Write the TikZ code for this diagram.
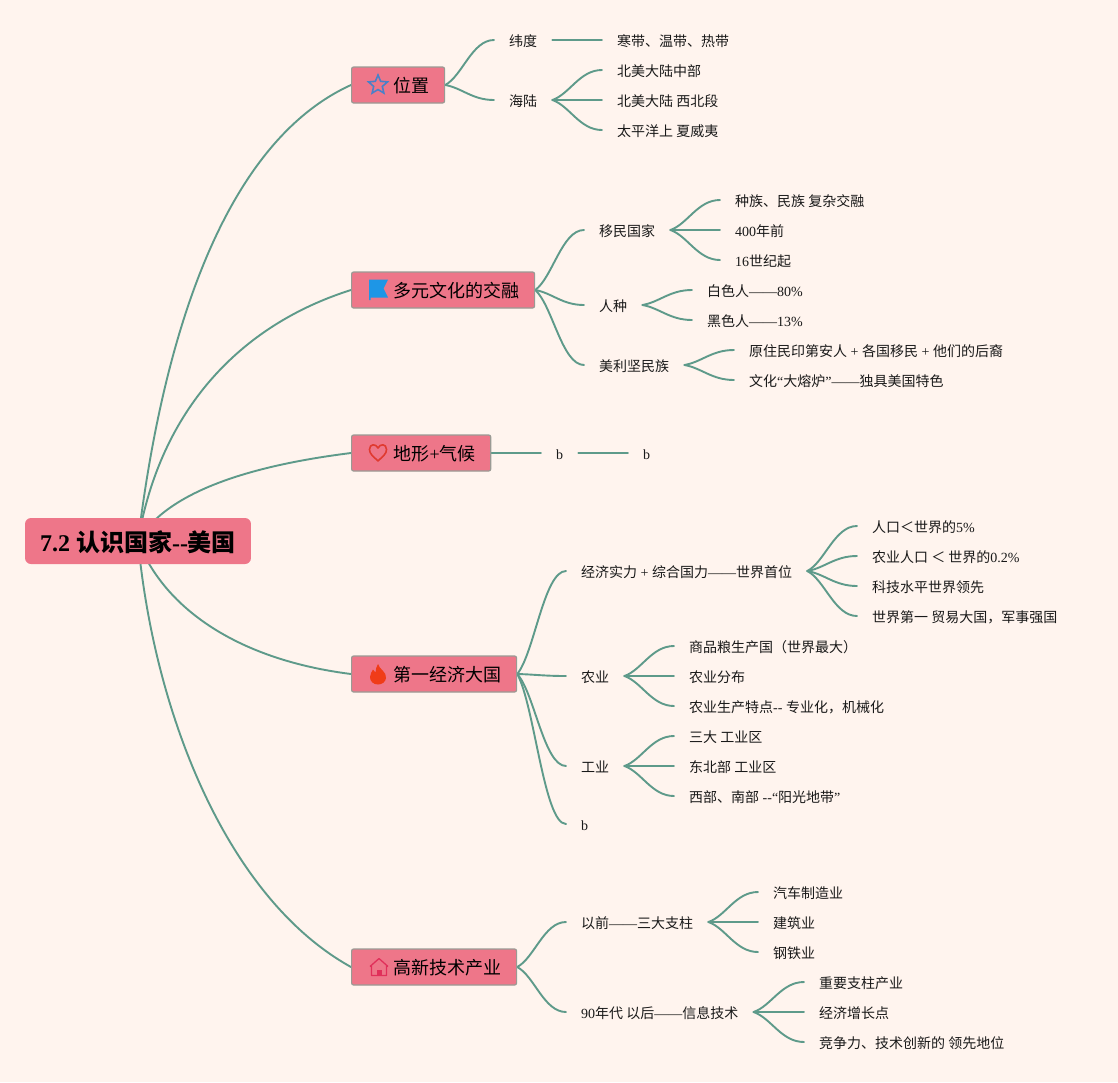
\documentclass[tikz,border=0pt]{standalone}
\usepackage{fontspec}
\setmainfont{Liberation Serif}
\newfontfamily\cjkface{Noto Sans CJK SC}
\newcommand{\zh}[1]{{\cjkface #1}}
\usetikzlibrary{shapes.geometric,backgrounds,calc}
\definecolor{pagebg}{HTML}{FFF4EE}
\definecolor{linkc}{HTML}{5E9A8A}
\definecolor{boxc}{HTML}{EE7689}
\definecolor{boxline}{HTML}{9A9A94}
\definecolor{iconstar}{HTML}{4A80C8}
\definecolor{iconflag}{HTML}{1E96E6}
\definecolor{iconheart}{HTML}{E03A30}
\definecolor{iconflame}{HTML}{F03C18}
\definecolor{iconhouse}{HTML}{E0305A}
\tikzset{
  x=1pt,y=1pt,
  leaf/.style={anchor=west,inner xsep=15pt,inner ysep=0pt,text height=14pt,text depth=1.4pt,font=\fontsize{14}{16}\selectfont,text=black!90},
  branch/.style={anchor=west,draw=boxline,line width=1.2pt,fill=boxc,rounded corners=2pt,minimum height=36pt,inner xsep=15pt,inner ysep=0pt,text height=19pt,text depth=4pt,font=\fontsize{18}{20}\selectfont},
  rootbox/.style={anchor=center,fill=boxc,rounded corners=6pt,minimum height=46pt,inner xsep=15pt,inner ysep=0pt,text height=24pt,text depth=4pt,font=\fontsize{24}{26}\selectfont\bfseries},
  link/.style={draw=linkc,line width=1.9pt,line cap=round},
}
\newcommand{\gapp}{\hspace*{27pt}}
\newcommand{\conn}[2]{\draw[link] let \p1=(#1.east),\p2=(#2.west) in (#1.east) .. controls ({\x1+.35*(\x2-\x1)},{\y1+.2*(\y2-\y1)}) and ({\x1+.55*(\x2-\x1)},{\y2}) .. (#2.west);}
\begin{document}
\begin{tikzpicture}
\useasboundingbox (0,0) rectangle (1118,-1082);
\node[rootbox] (root) at (138,-541) {7.2 \zh{认识国家}-{}-\zh{美国}};
\node[branch] (b1) at (351,-85) {\gapp\zh{位置}};
\node[branch] (b2) at (351,-290) {\gapp\zh{多元文化的交融}};
\node[branch] (b3) at (351,-453) {\gapp\zh{地形}+\zh{气候}};
\node[branch] (b4) at (351,-674) {\gapp\zh{第一经济大国}};
\node[branch] (b5) at (351,-967) {\gapp\zh{高新技术产业}};
% branch 1
\node[leaf] (a1) at (494,-40) {\zh{纬度}};
\node[leaf] (a2) at (494,-100) {\zh{海陆}};
\node[leaf] (a11) at (602,-40) {\zh{寒带、温带、热带}};
\node[leaf] (a21) at (602,-70) {\zh{北美大陆中部}};
\node[leaf] (a22) at (602,-100) {\zh{北美大陆 西北段}};
\node[leaf] (a23) at (602,-130) {\zh{太平洋上 夏威夷}};
% branch 2
\node[leaf] (c1) at (584,-230) {\zh{移民国家}};
\node[leaf] (c2) at (584,-305) {\zh{人种}};
\node[leaf] (c3) at (584,-365) {\zh{美利坚民族}};
\node[leaf] (c11) at (720,-200) {\zh{种族、民族 复杂交融}};
\node[leaf] (c12) at (720,-230) {400\zh{年前}};
\node[leaf] (c13) at (720,-260) {16\zh{世纪起}};
\node[leaf] (c21) at (692,-290) {\zh{白色人}——80\%};
\node[leaf] (c22) at (692,-320) {\zh{黑色人}——13\%};
\node[leaf] (c31) at (734,-350) {\zh{原住民印第安人} + \zh{各国移民} + \zh{他们的后裔}};
\node[leaf] (c32) at (734,-380) {\zh{文化}“\zh{大熔炉}”——\zh{独具美国特色}};
% branch 3
\node[leaf] (d1) at (541,-453) {b};
\node[leaf] (d2) at (628,-453) {b};
% branch 4
\node[leaf] (e1) at (566,-571) {\zh{经济实力} + \zh{综合国力}——\zh{世界首位}};
\node[leaf] (e2) at (566,-676) {\zh{农业}};
\node[leaf] (e3) at (566,-766) {\zh{工业}};
\node[leaf] (e4) at (566,-824) {b};
\node[leaf] (e11) at (857,-526) {\zh{人口＜世界的}5\%};
\node[leaf] (e12) at (857,-556) {\zh{农业人口 ＜ 世界的}0.2\%};
\node[leaf] (e13) at (857,-586) {\zh{科技水平世界领先}};
\node[leaf] (e14) at (857,-616) {\zh{世界第一 贸易大国，军事强国}};
\node[leaf] (e21) at (674,-646) {\zh{商品粮生产国（世界最大）}};
\node[leaf] (e22) at (674,-676) {\zh{农业分布}};
\node[leaf] (e23) at (674,-706) {\zh{农业生产特点}-{}- \zh{专业化，机械化}};
\node[leaf] (e31) at (674,-736) {\zh{三大 工业区}};
\node[leaf] (e32) at (674,-766) {\zh{东北部 工业区}};
\node[leaf] (e33) at (674,-796) {\zh{西部、南部} -{}-“\zh{阳光地带}”};
% branch 5
\node[leaf] (f1) at (566,-922) {\zh{以前}——\zh{三大支柱}};
\node[leaf] (f2) at (566,-1012) {90\zh{年代 以后}——\zh{信息技术}};
\node[leaf] (f11) at (758,-892) {\zh{汽车制造业}};
\node[leaf] (f12) at (758,-922) {\zh{建筑业}};
\node[leaf] (f13) at (758,-952) {\zh{钢铁业}};
\node[leaf] (f21) at (804,-982) {\zh{重要支柱产业}};
\node[leaf] (f22) at (804,-1012) {\zh{经济增长点}};
\node[leaf] (f23) at (804,-1042) {\zh{竞争力、技术创新的 领先地位}};
% icons
\node[star,star points=5,star point ratio=2.2,draw=iconstar,fill=none,line width=1.6pt,minimum size=20pt,inner sep=0pt] (i1) at (378,-85) {};
\fill[fill=iconflag] (369,-279.5) -- (388,-279.5) -- (383.5,-288.5) -- (388,-297.5) -- (370.5,-297.5) -- (370.5,-300) -- (369,-300) -- cycle;
\draw[draw=iconheart,line width=1.6pt,line join=round] (378,-461) .. controls (373,-456) and (369.5,-454) .. (369.5,-449.5) .. controls (369.5,-443.5) and (376,-443.5) .. (378,-448) .. controls (380,-443.5) and (386.5,-443.5) .. (386.5,-449.5) .. controls (386.5,-454) and (383,-456) .. (378,-461) -- cycle;
\fill[fill=iconflame] (378,-664) .. controls (379,-669) and (387,-672) .. (386,-678) .. controls (385.5,-682) and (382,-684.5) .. (378,-684.5) .. controls (373,-684.5) and (370,-681) .. (370,-677) .. controls (370,-674) and (372,-671.5) .. (373,-669.5) .. controls (374,-671) and (375,-672) .. (375.5,-672.5) .. controls (375,-669) and (377,-667) .. (378,-664) -- cycle;
\draw[draw=iconhouse,line width=1.3pt,line join=round] (370,-966.5) -- (379,-958.5) -- (388,-966.5) (371.5,-965.5) -- (371.5,-975.5) -- (386.5,-975.5) -- (386.5,-965.5);
\fill[fill=iconhouse] (376.5,-975.5) rectangle (381.5,-969.5);
\begin{pgfonlayer}{background}
\fill[pagebg] (0,0) rectangle (1118,-1082);
\draw[link] (root.center) .. controls (165,-320) and (230,-140) .. (b1.west);
\draw[link] (root.center) .. controls (160,-410) and (240,-325) .. (b2.west);
\draw[link] (root.center) .. controls (168,-490) and (255,-465) .. (b3.west);
\draw[link] (root.center) .. controls (165,-610) and (240,-660) .. (b4.west);
\draw[link] (root.center) .. controls (155,-720) and (230,-900) .. (b5.west);
\conn{b1}{a1}
\conn{b1}{a2}
\conn{a1}{a11}
\conn{a2}{a21}
\conn{a2}{a22}
\conn{a2}{a23}
\conn{b2}{c1}
\conn{b2}{c2}
\conn{b2}{c3}
\conn{c1}{c11}
\conn{c1}{c12}
\conn{c1}{c13}
\conn{c2}{c21}
\conn{c2}{c22}
\conn{c3}{c31}
\conn{c3}{c32}
\conn{b3}{d1}
\conn{d1}{d2}
\conn{b4}{e1}
\conn{b4}{e2}
\conn{b4}{e3}
\conn{b4}{e4}
\conn{e1}{e11}
\conn{e1}{e12}
\conn{e1}{e13}
\conn{e1}{e14}
\conn{e2}{e21}
\conn{e2}{e22}
\conn{e2}{e23}
\conn{e3}{e31}
\conn{e3}{e32}
\conn{e3}{e33}
\conn{b5}{f1}
\conn{b5}{f2}
\conn{f1}{f11}
\conn{f1}{f12}
\conn{f1}{f13}
\conn{f2}{f21}
\conn{f2}{f22}
\conn{f2}{f23}
\end{pgfonlayer}
\end{tikzpicture}
\end{document}
